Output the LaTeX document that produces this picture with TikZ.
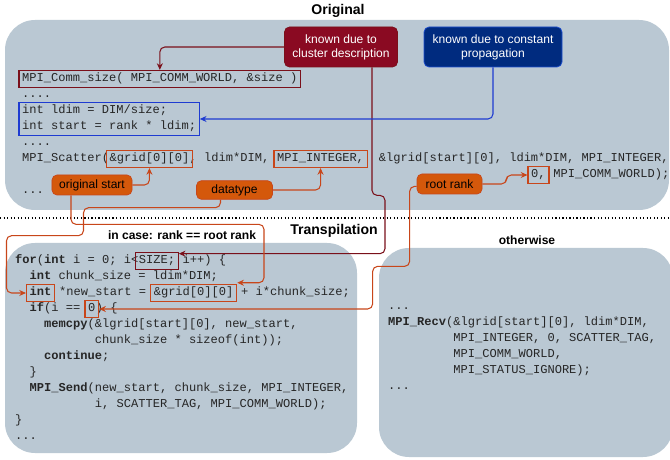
\documentclass[tikz,border=0pt]{standalone}
\usepackage{fontspec}
\setmainfont{Liberation Sans}
\setmonofont{Liberation Mono}
\usepackage{tikz}
\usetikzlibrary{arrows.meta,positioning,fit}
\definecolor{panelbg}{HTML}{BAC8D3}
\definecolor{codegray}{HTML}{262626}
\definecolor{redfill}{HTML}{8A0A22}
\definecolor{redline}{HTML}{7A101A}
\definecolor{navyfill}{HTML}{002B7F}
\definecolor{navyline}{HTML}{1F4FD0}
\definecolor{blueline}{HTML}{1E3BD1}
\definecolor{orafill}{HTML}{D4580B}
\definecolor{oraline}{HTML}{C8461A}
\newcommand{\codefont}{\ttfamily\frenchspacing\fontsize{10.3}{13.6}\selectfont}
\newcommand{\cind}[1]{\kern\dimexpr#1em*3/5\relax}
\tikzset{
  code/.style={font=\codefont,text=codegray,inner sep=0pt,anchor=west,
               text height=7.5pt,text depth=2.5pt},
  hl/.style={draw,line width=1.1pt,inner xsep=2.5pt,inner ysep=2pt},
  hlred/.style={hl,draw=redline},                 % bekannt aus Cluster
  hlblue/.style={hl,draw=blueline},               % Konstantenpropagation
  hlora/.style={hl,draw=oraline},                 % Scatter-Argumente
  lbl/.style={rounded corners=0.15cm,align=center,inner sep=2pt,
              font=\fontsize{10.3}{12}\selectfont,line width=0.6pt},
  redlbl/.style={lbl,fill=redfill,draw=redline,text=white},
  bluelbl/.style={lbl,fill=navyfill,draw=navyline,text=white},
  oralbl/.style={lbl,fill=orafill,draw=oraline,text=black,minimum height=0.6cm},
  head/.style={font=\bfseries\fontsize{12}{14}\selectfont},
  subhead/.style={font=\bfseries\fontsize{10.3}{12}\selectfont},
  panel/.style={fill=panelbg,rounded corners=0.9cm},
  ar/.style={-{Stealth[length=2mm,width=1.8mm]},line width=0.9pt,rounded corners=0.15cm}
}

\begin{document}
\begin{tikzpicture}[x=0.03cm,y=-0.03cm]
  \useasboundingbox (0,0) rectangle (670,460);
  \fill[panel] (5,20) rectangle (669,210);
  \fill[panel] (5,243) rectangle (357,453);
  \fill[panel] (379,248) rectangle (673,457);
  \draw[line width=1pt,dotted] (0,218) -- (670,218);

  \node[head] (torig) at (338,11) {Original};
  \node[head] (ttrans) at (334,231) {Transpilation};
  \node[subhead] (tcase) at (182,235) {in case: rank == root rank};
  \node[subhead] (tother) at (527,240) {otherwise};

  % Original
  \node[code] (commsz) at (22,79) {MPI\_Comm\_size( MPI\_COMM\_WORLD, \&size )};
  \node[code] (dots1) at (22,95) {....};
  \node[code] (ldim) at (22,111) {int ldim = DIM/size;};
  \node[code] (start) at (22,127) {int start = rank * ldim;};
  \node[code] (dots2) at (22,143) {....};
  \node[code] (sc0) at (22,159) {MPI\_Scatter(};
  \node[code,right=0pt of sc0] (scgrid) {\&grid[0][0]};
  \node[code,right=0pt of scgrid] (sc1) {, ldim*DIM,\cind{1}};
  \node[code,right=0pt of sc1] (sctype) {MPI\_INTEGER,};
  \node[code,right=0pt of sctype] (sc2) {\cind{2}\&lgrid[start][0], ldim*DIM, MPI\_INTEGER,};
  \node[code] (scroot) at (531,175) {0,};
  \node[code,right=0pt of scroot] (sc3) {\cind{1}MPI\_COMM\_WORLD);};
  \node[code] (dots3) at (22,191) {...};

  % Transpilation, root rank
  \node[code] (f0) at (15,261) {\textbf{for}(\textbf{int} i = 0; i<};
  \node[code,right=0pt of f0] (fsize) {SIZE;};
  \node[code,right=0pt of fsize] (f1) {\cind{1}i++) \{};
  \node[code] (chunk) at (15,277) {\cind{2}\textbf{int} chunk\_size = ldim*DIM;};
  \node[code] (nint) at (29.5,293) {\textbf{int}};
  \node[code,right=0pt of nint] (n1) {\cind{1}*new\_start =\cind{1}};
  \node[code,right=0pt of n1] (ngrid) {\&grid[0][0]};
  \node[code,right=0pt of ngrid] (n2) {\cind{1}+ i*chunk\_size;};
  \node[code] (i0) at (15,309) {\cind{2}\textbf{if}(i ==\cind{1}};
  \node[code,right=0pt of i0] (izero) {0};
  \node[code,right=0pt of izero] (i1) {) \{};
  \node[code] (mcpy) at (15,325) {\cind{4}\textbf{memcpy}(\&lgrid[start][0], new\_start,};
  \node[code] (mcpy2) at (15,341) {\cind{11}chunk\_size * sizeof(int));};
  \node[code] (cont) at (15,357) {\cind{4}\textbf{continue};};
  \node[code] (cl1) at (15,373) {\cind{2}\}};
  \node[code] (send) at (15,389) {\cind{2}\textbf{MPI\_Send}(new\_start, chunk\_size, MPI\_INTEGER,};
  \node[code] (send2) at (15,405) {\cind{11}i, SCATTER\_TAG, MPI\_COMM\_WORLD);};
  \node[code] (cl2) at (15,421) {\}};
  \node[code] (dots4) at (15,437) {...};

  % Transpilation, otherwise
  \node[code] (dots5) at (388,307) {...};
  \node[code] (recv) at (388,323) {\textbf{MPI\_Recv}(\&lgrid[start][0], ldim*DIM,};
  \node[code] (recv2) at (388,339) {\cind{9}MPI\_INTEGER, 0, SCATTER\_TAG,};
  \node[code] (recv3) at (388,355) {\cind{9}MPI\_COMM\_WORLD,};
  \node[code] (recv4) at (388,371) {\cind{9}MPI\_STATUS\_IGNORE);};
  \node[code] (dots6) at (388,387) {...};

  \node[hlred,fit=(commsz)] (commbox) {};
  \node[hlblue,fit=(ldim)(start)] (ldbox) {};
  \node[hlora,fit=(scgrid)] (scgridbox) {};
  \node[hlora,fit=(sctype)] (sctypebox) {};
  \node[hlora,fit=(scroot)] (scrootbox) {};
  \node[hlred,fit=(fsize)] (fsizebox) {};
  \node[hlora,fit=(nint)] (nintbox) {};
  \node[hlora,fit=(ngrid)] (ngridbox) {};
  \node[hlora,fit=(izero)] (izerobox) {};

  \node[redlbl,minimum width=3.39cm,minimum height=1.2cm] (clus) at (341,47)
    {known due to\\cluster description};
  \node[bluelbl,minimum width=4.14cm,minimum height=1.2cm] (prop) at (493,47)
    {known due to constant\\propagation};
  \node[oralbl,minimum width=2.4cm] (orig) at (92,185) {original start};
  \node[oralbl,minimum width=2.28cm,minimum height=0.56cm] (dtype) at (234.5,190) {datatype};
  \node[oralbl,minimum width=1.95cm] (root) at (449.5,184) {root rank};

  \draw[ar,redline] (clus.west) -| (commbox.north);
  \draw[ar,redline] ([xshift=0.93cm]clus.south) -- ++(0,128) -- ++(13,0)
    |- ([yshift=-1.5pt]fsizebox.north east);
  \draw[ar,blueline] (prop.south) |- (ldbox.east);
  \draw[ar,oraline] (orig.east) -| (scgridbox.south);
  \draw[ar,oraline] (dtype.east) -| (sctypebox.south);
  \draw[ar,oraline] (root.east) -- ++(24,0) |- (scrootbox.west);
  \draw[ar,oraline] ([xshift=-0.63cm]orig.south) -- ++(0,29) -- ++(193,0)
    |- ([yshift=1pt]ngridbox.north east);
  \draw[ar,oraline] ([xshift=-0.42cm]dtype.south) -- ++(0,8) -- ++(-137,0)
    -- ++(0,28) -- ++(-77,0) |- (nintbox.west);
  \draw[ar,oraline] ([yshift=-2pt]root.west) -- ++(-7,0) -- ++(0,80)
    -- ++(-37,0) |- (izerobox.east);
\end{tikzpicture}
\end{document}
